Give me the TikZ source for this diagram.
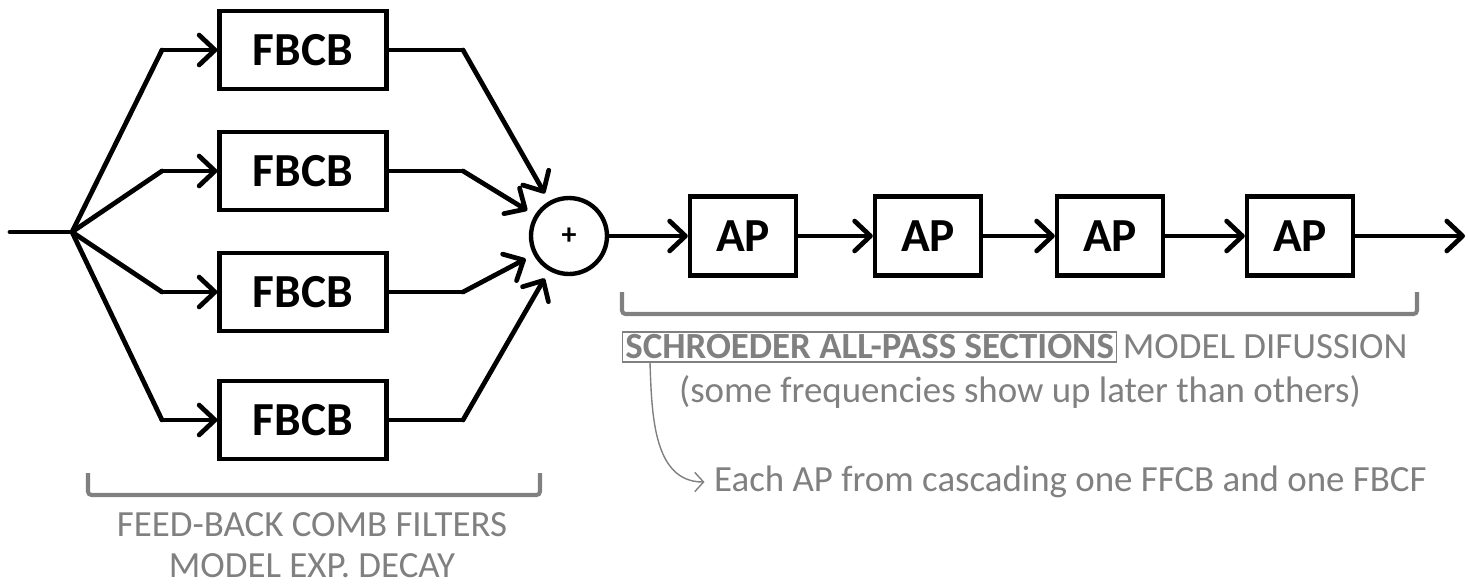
\documentclass[tikz,border=0pt]{standalone}
\usepackage{fontspec}
\setmainfont{Carlito}
\usetikzlibrary{arrows.meta,positioning}
\definecolor{notegray}{RGB}{128,128,128}
\begin{document}
\begin{tikzpicture}[x=0.02cm,y=-0.02cm,
    sig/.style={-{Straight Barb[length=9pt,width=17pt,round]}},
    note/.style={text=notegray,font=\fontsize{21}{23.5}\selectfont},
    bracket/.style={draw=notegray,line width=2.3pt,rounded corners=2pt}]
  \useasboundingbox (0,0) rectangle (1468,585);
  % filter banks and all-pass chain
  \begin{scope}[every node/.style={draw=black,line width=2.5pt,font=\fontsize{27}{27}\selectfont\bfseries}]
    \node[minimum width=3.34cm,minimum height=1.56cm] (F1) at (303,50) {FBCB};
    \node[minimum width=3.34cm,minimum height=1.56cm] (F2) at (303,171) {FBCB};
    \node[minimum width=3.34cm,minimum height=1.56cm] (F3) at (303,292) {FBCB};
    \node[minimum width=3.34cm,minimum height=1.56cm] (F4) at (303,420) {FBCB};
    \node[circle,minimum size=1.52cm,font=\fontsize{17}{17}\selectfont\bfseries] (S) at (569,236) {+};
    \node[minimum width=2.12cm,minimum height=1.58cm] (A1) at (743,236) {AP};
    \node[minimum width=2.12cm,minimum height=1.58cm] (A2) at (928,236) {AP};
    \node[minimum width=2.12cm,minimum height=1.58cm] (A3) at (1110,236) {AP};
    \node[minimum width=2.12cm,minimum height=1.58cm] (A4) at (1300,236) {AP};
  \end{scope}
  \coordinate (in) at (10,232);
  \coordinate (split) at (72,232);
  \coordinate (k1) at (162,50);
  \coordinate (k2) at (162,171);
  \coordinate (k3) at (162,292);
  \coordinate (k4) at (162,420);
  \coordinate (m1) at (463,50);
  \coordinate (m2) at (463,171);
  \coordinate (m3) at (463,292);
  \coordinate (m4) at (463,420);
  \coordinate (out) at (1465,236);
  \begin{scope}[every edge/.style={draw=black,line width=2.7pt,line cap=round,line join=round}]
    \path (in) edge (split);
    \path (split) edge (k1) (k1) edge[sig] (F1);
    \path (split) edge (k2) (k2) edge[sig] (F2);
    \path (split) edge (k3) (k3) edge[sig] (F3);
    \path (split) edge (k4) (k4) edge[sig] (F4);
    \path (F1) edge (m1) (m1) edge[sig,shorten >=5pt] (S);
    \path (F2) edge (m2) (m2) edge[sig,shorten >=5pt] (S);
    \path (F3) edge (m3) (m3) edge[sig,shorten >=5pt] (S);
    \path (F4) edge (m4) (m4) edge[sig,shorten >=5pt] (S);
    \path (S) edge[sig] (A1);
    \path (A1) edge[sig] (A2);
    \path (A2) edge[sig] (A3);
    \path (A3) edge[sig] (A4);
    \path (A4) edge[sig] (out);
  \end{scope}
  % notes
  \draw[bracket] (88,473) |- (540,495) -- (540,473);
  \node[note,align=center,inner sep=0pt] (fbnote) at (312,545) {FEED-BACK COMB FILTERS\\MODEL EXP. DECAY};
  \draw[bracket] (622,292) |- (1417,314) -- (1417,292);
  \node[note,draw=notegray,line width=0.8pt,inner sep=1.5pt,anchor=west,font=\fontsize{21}{23.5}\selectfont\bfseries] (sch) at (622,347) {SCHROEDER ALL-PASS SECTIONS};
  \node[note,anchor=base west,inner sep=0pt,xshift=3pt] (dif) at (sch.base east) {MODEL DIFUSSION};
  \node[note] (later) at (1020,392) {(some frequencies show up later than others)};
  \node[note,anchor=west] (each) at (708,482) {Each AP from cascading one FFCB and one FBCF};
  \draw[notegray,line width=0.8pt,-{Straight Barb[length=5pt,width=11pt]}] ([xshift=0.56cm]sch.south west) to[out=-88,in=180] ([xshift=-2pt]each.west);
\end{tikzpicture}
\end{document}
